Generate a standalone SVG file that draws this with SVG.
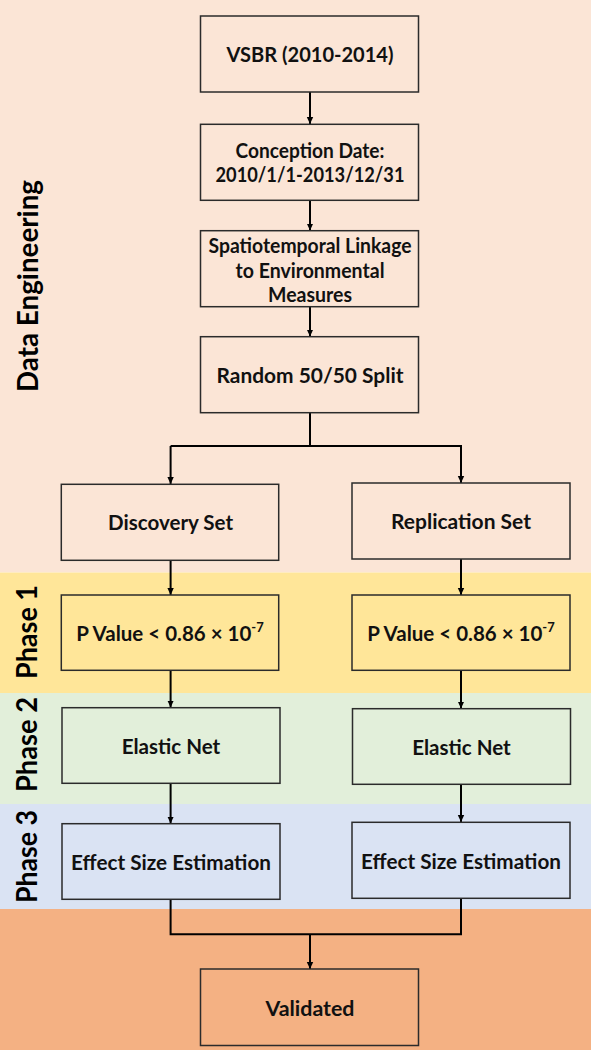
<svg xmlns="http://www.w3.org/2000/svg" width="593" height="1050" viewBox="0 0 593 1050">
<style>
.box{stroke:#2b2b2b;stroke-width:1.5}
.t{font-family:Lato,"Open Sans","Liberation Sans",sans-serif;font-weight:bold;font-size:21.5px;fill:#111;text-anchor:middle}
.pv{font-size:20.5px}
.side{font-family:Lato,"Open Sans","Liberation Sans",sans-serif;font-weight:bold;font-size:28.5px;fill:#000;text-anchor:middle}
.c{fill:none;stroke:#000;stroke-width:2}
.de{fill:#FBE5D6}.p1{fill:#FFE699}.p2{fill:#E2EFDA}.p3{fill:#DAE3F3}.v{fill:#F4B183}
</style>
<defs>
<marker id="ah" markerWidth="8" markerHeight="8" refX="7" refY="4" orient="auto" markerUnits="userSpaceOnUse">
<path d="M0,0.8 L7,4 L0,7.2 Z" fill="#000"/>
</marker>
</defs>
<rect width="593" height="1050" fill="#fff"/>
<g id="bands">
<rect class="de" x="0" y="0" width="591" height="572.5"/>
<rect class="p1" x="0" y="572.5" width="591" height="120.5"/>
<rect class="p2" x="0" y="693" width="591" height="111"/>
<rect class="p3" x="0" y="804" width="591" height="105"/>
<rect class="v" x="0" y="909" width="591" height="141"/>
</g>
<g id="labels">
<text class="side" transform="translate(38,286) rotate(-90)" textLength="212" lengthAdjust="spacingAndGlyphs">Data Engineering</text>
<text class="side" transform="translate(37,632) rotate(-90)" textLength="94" lengthAdjust="spacingAndGlyphs">Phase 1</text>
<text class="side" transform="translate(37,744.5) rotate(-90)" textLength="95" lengthAdjust="spacingAndGlyphs">Phase 2</text>
<text class="side" transform="translate(37,856.5) rotate(-90)" textLength="93" lengthAdjust="spacingAndGlyphs">Phase 3</text>
</g>
<g id="connectors">
<line class="c" x1="310" y1="92" x2="310" y2="124" marker-end="url(#ah)"/>
<line class="c" x1="310" y1="200" x2="310" y2="230.5" marker-end="url(#ah)"/>
<line class="c" x1="310" y1="307" x2="310" y2="336.5" marker-end="url(#ah)"/>
<polyline class="c" points="310,412.5 310,446"/>
<polyline class="c" points="170.6,446 461,446 461,483" marker-end="url(#ah)"/>
<line class="c" x1="170.6" y1="446" x2="170.6" y2="484" marker-end="url(#ah)"/>
<line class="c" x1="170.6" y1="560.5" x2="170.6" y2="595" marker-end="url(#ah)"/>
<line class="c" x1="461" y1="559" x2="461" y2="595" marker-end="url(#ah)"/>
<line class="c" x1="170.6" y1="670.5" x2="170.6" y2="707.5" marker-end="url(#ah)"/>
<line class="c" x1="461" y1="670.5" x2="461" y2="708.5" marker-end="url(#ah)"/>
<line class="c" x1="170.6" y1="783.5" x2="170.6" y2="823.5" marker-end="url(#ah)"/>
<line class="c" x1="461" y1="784.5" x2="461" y2="822" marker-end="url(#ah)"/>
<polyline class="c" points="170.6,899.5 170.6,934.3 461,934.3 461,898.5"/>
<line class="c" x1="310" y1="934.3" x2="310" y2="969" marker-end="url(#ah)"/>
</g>
<g id="n-vsbr">
<rect class="box de" x="200.5" y="16" width="218" height="76"/>
<text class="t" x="310" y="61.5" textLength="167" lengthAdjust="spacingAndGlyphs">VSBR (2010-2014)</text>
</g>
<g id="n-conception">
<rect class="box de" x="200.5" y="124.3" width="218" height="76"/>
<text class="t" x="310" y="158" textLength="149" lengthAdjust="spacingAndGlyphs">Conception Date:</text>
<text class="t" x="310" y="181.5" textLength="189" lengthAdjust="spacingAndGlyphs">2010/1/1-2013/12/31</text>
</g>
<g id="n-linkage">
<rect class="box de" x="200.5" y="230.7" width="218" height="76"/>
<text class="t" x="310" y="252.5" textLength="203" lengthAdjust="spacingAndGlyphs">Spatiotemporal Linkage</text>
<text class="t" x="310" y="277.5" textLength="149" lengthAdjust="spacingAndGlyphs">to Environmental</text>
<text class="t" x="310" y="301.5" textLength="84" lengthAdjust="spacingAndGlyphs">Measures</text>
</g>
<g id="n-split">
<rect class="box de" x="200.5" y="336.7" width="218" height="76"/>
<text class="t" x="310" y="383" textLength="187" lengthAdjust="spacingAndGlyphs">Random 50/50 Split</text>
</g>
<g id="n-discovery">
<rect class="box de" x="61.3" y="484.3" width="217.4" height="76"/>
<text class="t" x="170.6" y="530" textLength="125" lengthAdjust="spacingAndGlyphs">Discovery Set</text>
</g>
<g id="n-replication">
<rect class="box de" x="352" y="483" width="218" height="76"/>
<text class="t" x="461" y="528.5" textLength="140" lengthAdjust="spacingAndGlyphs">Replication Set</text>
</g>
<g id="n-pvalue-left">
<rect class="box p1" x="61.3" y="595" width="217.4" height="75.3"/>
<text class="t pv" x="170" y="640.5">P Value &lt; 0.86 × 10<tspan font-size="13" dy="-8.5">-7</tspan></text>
</g>
<g id="n-pvalue-right">
<rect class="box p1" x="352" y="595" width="218" height="75.3"/>
<text class="t pv" x="461" y="640.5">P Value &lt; 0.86 × 10<tspan font-size="13" dy="-8.5">-7</tspan></text>
</g>
<g id="n-elastic-left">
<rect class="box p2" x="62" y="707.7" width="218" height="75.6"/>
<text class="t" x="171" y="754" textLength="98.6" lengthAdjust="spacingAndGlyphs">Elastic Net</text>
</g>
<g id="n-elastic-right">
<rect class="box p2" x="352.5" y="708.7" width="218" height="75.6"/>
<text class="t" x="461.5" y="755" textLength="98.6" lengthAdjust="spacingAndGlyphs">Elastic Net</text>
</g>
<g id="n-effect-left">
<rect class="box p3" x="62" y="823.7" width="218" height="75.6"/>
<text class="t" x="171" y="870" textLength="200" lengthAdjust="spacingAndGlyphs">Effect Size Estimation</text>
</g>
<g id="n-effect-right">
<rect class="box p3" x="352" y="822.3" width="218" height="76"/>
<text class="t" x="461" y="868.5" textLength="200" lengthAdjust="spacingAndGlyphs">Effect Size Estimation</text>
</g>
<g id="n-validated">
<rect class="box v" x="200.5" y="969" width="218" height="76.5"/>
<text class="t" x="310" y="1015.5" textLength="89" lengthAdjust="spacingAndGlyphs">Validated</text>
</g>
</svg>
